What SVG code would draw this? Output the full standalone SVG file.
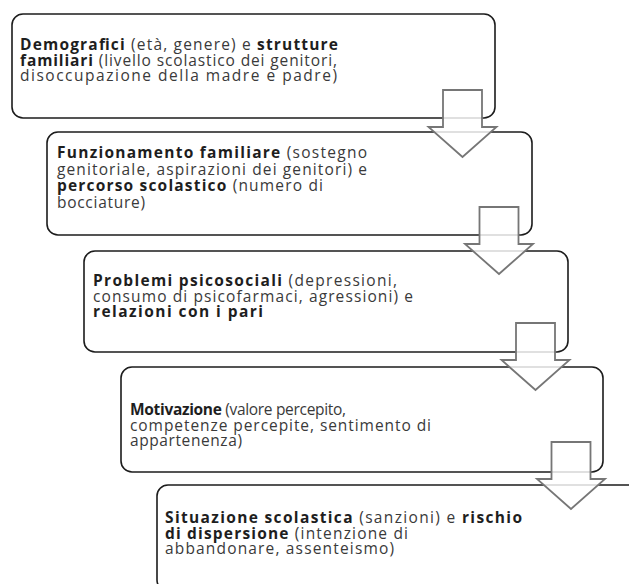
<svg xmlns="http://www.w3.org/2000/svg" xmlns:xlink="http://www.w3.org/1999/xlink" width="629" height="584" viewBox="0 0 629 584">
  <style>
    .box { fill: #ffffff; stroke: #1c1c1c; stroke-width: 1.6; }
    .arrow { fill: #ffffff; fill-opacity: 0.82; stroke: #767676; stroke-width: 1.8; stroke-linejoin: miter; }
    text { font-family: "Open Sans", "Liberation Sans", sans-serif; font-size: 15.5px; fill: #3a3a3a; }
    .b { font-weight: bold; fill: #1e1e1e; }
  </style>
  <defs>
    <!-- block arrow pointing down; origin at top centre of the shaft -->
    <path id="downArrow" class="arrow" d="M -19.5 0 H 19.5 V 37 H 34 L 0 67 L -34 37 H -19.5 Z"/>
  </defs>
  <rect width="629" height="584" fill="#ffffff"/>

  <g id="node-demografici">
    <rect class="box" x="12" y="14" width="483" height="104" rx="11"/>
    <text x="20" y="50" textLength="318" lengthAdjust="spacing"><tspan class="b">Demografici</tspan> (età, genere) e <tspan class="b">strutture</tspan></text>
    <text x="20" y="65.5" textLength="317" lengthAdjust="spacing"><tspan class="b">familiari</tspan> (livello scolastico dei genitori,</text>
    <text x="20" y="81" textLength="317" lengthAdjust="spacing">disoccupazione della madre e padre)</text>
  </g>

  <g id="node-funzionamento">
    <rect class="box" x="47" y="132" width="485" height="103" rx="11"/>
    <text x="57" y="158" textLength="310" lengthAdjust="spacing"><tspan class="b">Funzionamento familiare</tspan> (sostegno</text>
    <text x="57" y="174.5" textLength="310" lengthAdjust="spacing">genitoriale, aspirazioni dei genitori) e</text>
    <text x="57" y="191" textLength="266" lengthAdjust="spacing"><tspan class="b">percorso scolastico</tspan> (numero di</text>
    <text x="57" y="207.5" textLength="88" lengthAdjust="spacing">bocciature)</text>
  </g>

  <g id="node-psicosociali">
    <rect class="box" x="84" y="251" width="484" height="101" rx="11"/>
    <text x="93" y="286" textLength="304" lengthAdjust="spacing"><tspan class="b">Problemi psicosociali</tspan> (depressioni,</text>
    <text x="93" y="301.5" textLength="320" lengthAdjust="spacing">consumo di psicofarmaci, agressioni) e</text>
    <text x="93" y="317" textLength="170" lengthAdjust="spacing" class="b">relazioni con i pari</text>
  </g>

  <g id="node-motivazione">
    <rect class="box" x="121" y="367" width="482" height="105" rx="11"/>
    <text x="130" y="415" textLength="216" lengthAdjust="spacing"><tspan class="b">Motivazione</tspan> (valore percepito,</text>
    <text x="130" y="430.5" textLength="301" lengthAdjust="spacing">competenze percepite, sentimento di</text>
    <text x="130" y="446" textLength="112" lengthAdjust="spacing">appartenenza)</text>
  </g>

  <g id="node-situazione">
    <rect class="box" x="157" y="485" width="483" height="106" rx="11"/>
    <text x="165" y="523" textLength="357" lengthAdjust="spacing"><tspan class="b">Situazione scolastica</tspan> (sanzioni) e <tspan class="b">rischio</tspan></text>
    <text x="165" y="538.5" textLength="243" lengthAdjust="spacing"><tspan class="b">di dispersione</tspan> (intenzione di</text>
    <text x="165" y="554" textLength="229" lengthAdjust="spacing">abbandonare, assenteismo)</text>
  </g>

  <g id="connectors">
    <use xlink:href="#downArrow" href="#downArrow" x="462.5" y="90"/>
    <use xlink:href="#downArrow" href="#downArrow" x="499" y="207"/>
    <use xlink:href="#downArrow" href="#downArrow" x="535.5" y="323"/>
    <use xlink:href="#downArrow" href="#downArrow" x="571" y="442"/>
  </g>
</svg>
